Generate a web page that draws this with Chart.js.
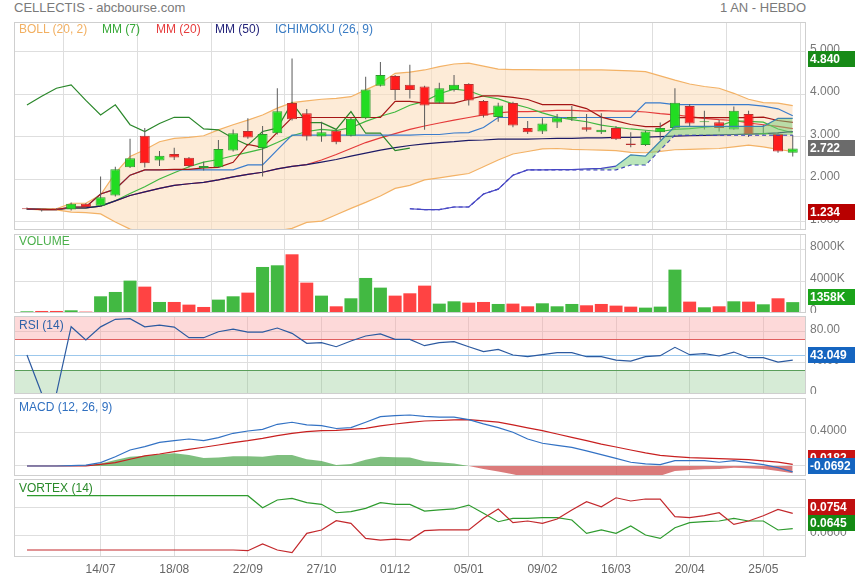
<!DOCTYPE html>
<html lang="fr">
<head>
<meta charset="UTF-8">
<title>CELLECTIS - abcbourse.com</title>
<script src="https://cdn.jsdelivr.net/npm/chart.js"></script>
<style>
  body { margin: 0; background: #fff; font-family: "Liberation Sans", Arial, sans-serif; }
  #page { position: relative; width: 855px; height: 580px; overflow: hidden; }
  .pane { position: absolute; left: 0; width: 855px; }
  .lbl { position: absolute; font-size: 12px; line-height: 14px; white-space: nowrap; z-index: 2; }
</style>
</head>
<body>
<div id="page">
  <div class="lbl" style="left:14px;top:1px;font-size:13px;color:#7a7a7a">CELLECTIS - abcbourse.com</div>
  <div class="lbl" style="right:49px;top:1px;font-size:13px;color:#7a7a7a">1 AN - HEBDO</div>

  <div class="pane" style="top:22px;height:208px"><canvas id="prix"></canvas></div>
  <div class="pane" style="top:234px;height:79px"><canvas id="volume"></canvas></div>
  <div class="pane" style="top:316px;height:78px"><canvas id="rsi"></canvas></div>
  <div class="pane" style="top:398px;height:78px"><canvas id="macd"></canvas></div>
  <div class="pane" style="top:479px;height:101px"><canvas id="vortex"></canvas></div>

  <div class="lbl" style="left:19px;top:22px;color:#f2b062">BOLL (20, 2)</div>
  <div class="lbl" style="left:102px;top:22px;color:#36a836">MM (7)</div>
  <div class="lbl" style="left:156px;top:22px;color:#e63c3c">MM (20)</div>
  <div class="lbl" style="left:215px;top:22px;color:#24247a">MM (50)</div>
  <div class="lbl" style="left:275px;top:22px;color:#3a7cc4">ICHIMOKU (26, 9)</div>
  <div class="lbl" style="left:19px;top:234px;color:#4cb04c">VOLUME</div>
  <div class="lbl" style="left:19px;top:318px;color:#2f62a8">RSI (14)</div>
  <div class="lbl" style="left:19px;top:400px;color:#3070c0">MACD (12, 26, 9)</div>
  <div class="lbl" style="left:19px;top:481px;color:#2a8a2a">VORTEX (14)</div>
</div>

<script>
// semaines (lundi)
const weeks = ['09/06','16/06','23/06','30/06','07/07','14/07','21/07','28/07','04/08','11/08',
  '18/08','25/08','01/09','08/09','15/09','22/09','29/09','06/10','13/10','20/10',
  '27/10','03/11','10/11','17/11','24/11','01/12','08/12','15/12','22/12','29/12',
  '05/01','12/01','19/01','26/01','02/02','09/02','16/02','23/02','02/03','09/03',
  '16/03','23/03','30/03','06/04','13/04','20/04','27/04','04/05','11/05','18/05',
  '25/05','01/06','08/06'];
const xTickIdx = [5, 10, 15, 20, 25, 30, 35, 40, 45, 50];

// bougies
const open = [1.31,1.285,1.29,1.28,1.42,1.37,1.61,2.28,3.02,2.44,2.59,2.50,2.26,2.28,2.67,3.13,2.73,3.08,3.79,3.55,
  3.00,3.14,3.02,3.43,4.20,4.43,4.22,4.18,3.80,4.10,4.24,3.84,3.46,3.79,3.20,3.12,3.33,3.42,3.22,3.10,
  3.20,2.84,2.80,3.10,3.20,3.72,3.34,3.34,3.17,3.53,3.06,3.06,2.62];
const high = [1.33,1.29,1.31,1.45,1.43,2.06,2.29,2.95,3.20,2.66,2.74,2.52,2.41,2.92,3.17,3.43,3.25,4.14,4.84,3.65,
  3.35,3.17,3.45,4.41,4.76,4.45,4.69,4.20,4.27,4.45,4.26,3.86,3.80,3.82,3.37,3.43,3.53,3.72,3.53,3.55,
  3.25,3.10,3.14,3.33,4.14,3.77,3.61,3.39,3.71,3.61,3.28,3.10,3.04];
const low = [1.27,1.234,1.27,1.26,1.33,1.35,1.59,2.26,2.27,2.31,2.45,2.27,2.20,2.26,2.65,2.95,2.06,3.05,3.38,2.91,
  2.88,2.82,3.00,3.41,4.18,3.86,3.90,3.16,3.78,4.06,3.73,3.45,3.35,3.22,3.06,3.06,3.20,3.37,3.12,3.06,
  2.92,2.75,2.78,2.92,3.18,3.25,3.17,3.12,3.16,2.99,3.04,2.62,2.53];
const close = [1.29,1.28,1.28,1.42,1.34,1.57,2.23,2.49,2.37,2.55,2.51,2.31,2.31,2.71,3.08,2.98,3.06,3.60,3.41,3.00,
  3.10,2.87,3.42,4.11,4.45,4.10,4.10,3.73,4.14,4.22,3.85,3.49,3.73,3.26,3.10,3.31,3.45,3.46,3.16,3.16,
  2.94,2.80,3.12,3.20,3.80,3.31,3.35,3.20,3.61,3.06,3.07,2.65,2.722];

// volume (milliers)
const volume = [210,254,254,337,171,2087,2629,4046,3296,1379,1379,1046,754,1671,2087,2546,5754,5962,7337,3796,
  2171,837,1837,4379,3171,2171,2462,3421,1171,1462,1296,1379,1129,1171,837,1212,837,1129,962,1129,
  921,796,671,796,5421,1421,712,837,1462,1421,1087,1837,1358];

// indicateurs du panneau prix
const bollUp = [1.30,1.30,1.30,1.43,1.43,1.63,2.14,2.53,2.69,2.88,2.96,2.98,3.02,3.16,3.28,3.39,3.51,3.67,3.80,3.84,
  3.88,3.90,3.94,4.10,4.26,4.49,4.52,4.57,4.65,4.71,4.73,4.66,4.59,4.58,4.58,4.57,4.57,4.57,4.57,4.57,
  4.56,4.55,4.53,4.43,4.33,4.24,4.18,4.14,4.02,3.88,3.80,3.79,3.73];
const bollLow = [1.29,1.275,1.275,1.22,1.21,1.18,0.99,0.82,0.72,0.68,0.70,0.75,0.78,0.75,0.72,0.74,0.78,0.78,0.84,0.98,
  1.01,1.16,1.31,1.45,1.60,1.78,1.85,1.98,2.03,2.08,2.13,2.29,2.45,2.59,2.65,2.71,2.72,2.70,2.69,2.68,
  2.67,2.63,2.62,2.65,2.69,2.70,2.71,2.72,2.76,2.80,2.76,2.70,2.65];
const mm7 = [1.29,1.285,1.283,1.32,1.32,1.37,1.49,1.66,1.82,2.00,2.15,2.29,2.40,2.46,2.55,2.63,2.71,2.86,3.02,3.12,
  3.17,3.14,3.21,3.36,3.48,3.58,3.74,3.83,4.01,4.12,4.08,3.95,3.89,3.77,3.68,3.56,3.46,3.40,3.35,3.27,
  3.22,3.18,3.15,3.12,3.17,3.19,3.22,3.25,3.37,3.36,3.34,3.18,3.09];
const mm20 = [1.29,1.285,1.283,1.318,1.322,1.363,1.487,1.613,1.70,1.78,1.85,1.89,1.92,1.98,2.05,2.11,2.16,2.24,2.30,2.34,
  2.45,2.58,2.72,2.86,2.97,3.07,3.17,3.25,3.32,3.39,3.45,3.51,3.56,3.59,3.59,3.60,3.62,3.62,3.60,3.61,
  3.60,3.60,3.58,3.54,3.51,3.47,3.43,3.40,3.38,3.32,3.28,3.24,3.19];
const mm50 = [1.29,1.285,1.283,1.318,1.322,1.363,1.487,1.613,1.70,1.78,1.85,1.89,1.92,1.98,2.05,2.11,2.16,2.24,2.30,2.34,
  2.40,2.46,2.54,2.61,2.68,2.74,2.79,2.83,2.86,2.88,2.91,2.92,2.94,2.94,2.94,2.95,2.96,2.96,2.97,2.97,
  2.98,2.98,2.99,3.00,3.01,3.02,3.03,3.04,3.05,3.06,3.07,3.09,3.12];
const tenkan = [1.30,1.282,1.282,1.342,1.342,1.647,1.762,2.092,2.217,2.217,2.23,2.23,2.265,2.275,2.395,2.815,2.745,3.10,3.45,3.45,
  3.45,3.45,3.45,3.45,3.45,3.83,3.83,3.79,3.79,3.79,3.88,3.96,3.96,3.925,3.875,3.755,3.755,3.755,3.66,3.46,
  3.37,3.285,3.235,3.235,3.445,3.445,3.445,3.445,3.445,3.445,3.46,3.38,3.335];
const kijun = [1.30,1.282,1.282,1.342,1.342,1.647,1.762,2.092,2.217,2.217,2.217,2.217,2.217,2.217,2.217,2.332,2.332,2.687,3.037,3.037,
  3.037,3.037,3.037,3.037,3.037,3.037,3.037,3.05,3.05,3.085,3.095,3.215,3.45,3.45,3.45,3.45,3.45,3.45,3.45,3.45,
  3.45,3.45,3.795,3.795,3.755,3.755,3.755,3.755,3.755,3.755,3.72,3.655,3.49];
const chikou = [3.745,3.95,4.14,4.22,3.855,3.51,3.75,3.28,3.12,3.31,3.455,3.455,3.18,3.16,2.96,2.80,3.12,3.20,3.80,3.33,
  3.33,3.17,3.59,3.08,3.08,2.67,2.73];
const senkouStart = 26;
const senkouA = [1.30,1.282,1.282,1.342,1.342,1.647,1.762,2.092,2.217,2.217,2.22,2.22,2.24,2.25,2.306,2.57,2.54,2.89,3.24,3.24,
  3.24,3.24,3.24,3.24,3.24,3.43,3.43];
const senkouB = [1.30,1.282,1.282,1.342,1.342,1.647,1.762,2.092,2.217,2.217,2.217,2.217,2.217,2.217,2.217,2.332,2.332,2.687,3.037,3.037,
  3.037,3.037,3.037,3.037,3.037,3.037,3.037];

// RSI
const rsi = [49.7,0,0,86.2,69,86,95.7,96.5,86,88.3,85.7,72,72,79.7,83.1,79.3,79.3,84.5,77.6,64.7,
  65.6,60.4,67.7,74.2,76.8,69.9,69.9,61.7,65.6,66.9,60.4,54,57,49.7,47.5,50.1,52.7,52.7,47.5,47.5,
  43.2,41.9,47.5,48.8,59.6,50.1,51.4,48.4,53.5,46.2,46.2,40.6,43.049];
const rsiLevels = [30, 50, 70];

// MACD
const macd = [0,0,0,0.005,0.01,0.04,0.11,0.19,0.23,0.28,0.30,0.32,0.30,0.336,0.388,0.415,0.435,0.495,0.519,0.487,
  0.479,0.445,0.455,0.519,0.585,0.597,0.605,0.59,0.58,0.58,0.55,0.50,0.455,0.40,0.32,0.27,0.245,0.22,0.18,0.135,
  0.09,0.044,0.025,0.016,0.063,0.063,0.063,0.044,0.063,0.04,0.016,-0.02,-0.0692];
const signal = [0,0,0,0,0.002,0.02,0.04,0.08,0.119,0.142,0.17,0.198,0.222,0.249,0.277,0.30,0.328,0.36,0.388,0.407,
  0.419,0.423,0.435,0.447,0.475,0.498,0.518,0.534,0.54,0.548,0.55,0.535,0.52,0.487,0.453,0.42,0.38,0.34,0.30,0.26,
  0.225,0.19,0.155,0.126,0.112,0.10,0.093,0.087,0.081,0.075,0.06,0.045,0.0182];
const histo = [0,0,0,0.005,0.008,0.03,0.07,0.11,0.12,0.14,0.15,0.13,0.095,0.10,0.115,0.115,0.11,0.13,0.13,0.08,
  0.06,0.012,0.024,0.075,0.11,0.105,0.10,0.055,0.045,0.03,0,-0.036,-0.067,-0.099,-0.14,-0.15,-0.14,-0.13,-0.125,-0.13,
  -0.135,-0.145,-0.13,-0.115,-0.06,-0.048,-0.04,-0.036,-0.02,-0.028,-0.036,-0.06,-0.087];

// VORTEX
const viPlus = [0.0881,0.0881,0.0881,0.0881,0.0881,0.0881,0.0881,0.0881,0.0881,0.0881,0.0881,0.0881,0.0881,0.0881,0.0881,0.0881,
  0.0795,0.085,0.0862,0.0831,0.0819,0.0759,0.0767,0.079,0.0831,0.0819,0.0819,
  0.0771,0.0779,0.0786,0.0814,0.0755,0.0695,0.0719,0.0719,0.0724,0.0724,0.0707,0.0612,0.0636,0.0612,0.0664,0.060,0.0576,
  0.0652,0.0688,0.0695,0.070,0.0719,0.070,0.070,0.0636,0.0645];
const viMinus = [0.0493,0.0493,0.0493,0.0493,0.0493,0.0493,0.0493,0.0493,0.0493,0.0493,0.0493,0.0493,0.0493,0.0493,0.0493,
  0.0488,0.0536,0.0493,0.0474,0.0612,0.0636,0.0702,0.0683,0.0576,0.0564,0.0571,0.0564,
  0.0631,0.0636,0.0636,0.0636,0.0719,0.0786,0.0688,0.070,0.0683,0.0714,0.0779,0.0838,0.0802,0.0866,0.0843,0.0857,0.0857,
  0.0731,0.0724,0.0738,0.0759,0.0676,0.070,0.0738,0.0783,0.0754];

// graduations
const priceTicks = [1, 2, 3, 4, 5];
const volumeTicks = [0, 4000, 8000];
const rsiTicks = [0, 40, 80];
const macdTicks = [0, 0.4];
const vortexTicks = [0.06, 0.08];

Chart.defaults.font.family = '"Liberation Sans", Arial, sans-serif';
Chart.defaults.font.size = 12;
Chart.defaults.color = '#777';

const X_MIN = -0.88, X_MAX = 52.9;
const GRID = '#dedede';
const idx = weeks.map((w, i) => i);
const pts = (arr, start = 0) => arr.map((v, i) => ({ x: i + start, y: v }));

function line(data, color, extra) {
  return Object.assign({ type: 'line', data, borderColor: color, borderWidth: 1.2,
    pointRadius: 0, tension: 0, fill: false }, extra);
}

const frame = {
  id: 'frame',
  afterDraw(chart) {
    const { ctx, chartArea: a } = chart;
    ctx.save();
    ctx.strokeStyle = '#cfcfcf';
    ctx.lineWidth = 1;
    ctx.strokeRect(Math.round(a.left) + 0.5, Math.round(a.top) + 0.5, Math.round(a.width) - 1, Math.round(a.height) - 1);
    ctx.restore();
  }
};

function valueBoxes(items, dy) {
  return {
    id: 'valueBoxes',
    afterDraw(chart) {
      const { ctx } = chart;
      const y = chart.scales.y;
      ctx.save();
      ctx.font = 'bold 12px "Liberation Sans", Arial, sans-serif';
      ctx.textBaseline = 'middle';
      items.forEach(b => {
        const py = Math.round(y.getPixelForValue(b.value) + dy);
        ctx.fillStyle = b.color;
        ctx.fillRect(808, py - 8, 47, 16);
        ctx.fillStyle = '#fff';
        ctx.fillText(b.text, 810, py + 1);
      });
      ctx.restore();
    }
  };
}

const rsiBands = {
  id: 'rsiBands',
  beforeDatasetsDraw(chart) {
    const { ctx, chartArea: a, scales: { y } } = chart;
    const y30 = y.getPixelForValue(rsiLevels[0]);
    const y50 = y.getPixelForValue(rsiLevels[1]);
    const y70 = y.getPixelForValue(rsiLevels[2]);
    ctx.save();
    ctx.fillStyle = 'rgba(250,160,160,0.4)';
    ctx.fillRect(a.left, a.top, a.width, y70 - a.top);
    ctx.fillStyle = 'rgba(120,190,120,0.3)';
    ctx.fillRect(a.left, y30, a.width, a.bottom - y30);
    [[y70, '#e06060'], [y50, '#9cc8ec'], [y30, '#5a9e5a']].forEach(([py, c]) => {
      ctx.strokeStyle = c;
      ctx.lineWidth = 1;
      ctx.beginPath();
      ctx.moveTo(a.left, Math.round(py) + 0.5);
      ctx.lineTo(a.right, Math.round(py) + 0.5);
      ctx.stroke();
    });
    ctx.restore();
  }
};

function makeChart(id, o) {
  return new Chart(document.getElementById(id), {
    type: 'line',
    data: { datasets: o.datasets },
    plugins: [frame, valueBoxes(o.boxes || [], o.boxDy || 0)].concat(o.plugins || []),
    options: {
      responsive: true,
      maintainAspectRatio: false,
      animation: false,
      events: [],
      layout: { padding: { left: 14, right: 0, top: 0, bottom: 0 } },
      plugins: { legend: { display: false }, tooltip: { enabled: false } },
      scales: {
        x: {
          type: 'linear', min: X_MIN, max: X_MAX, offset: false,
          grid: { color: GRID, drawTicks: false },
          border: { display: false },
          afterBuildTicks: s => { s.ticks = xTickIdx.map(v => ({ value: v })); },
          ticks: { display: !!o.showX, padding: 5, color: '#666', maxRotation: 0, autoSkip: false,
            callback: v => weeks[v] },
          afterFit: s => { s.height = o.showX ? 23 : 0; s.paddingLeft = 0; s.paddingRight = 0; }
        },
        y: {
          position: 'right', min: o.yMin, max: o.yMax,
          grid: { color: GRID, drawTicks: false },
          border: { display: false },
          afterBuildTicks: s => { s.ticks = o.yTicks.map(v => ({ value: v })); },
          ticks: { padding: 4, color: '#777', labelOffset: -2, callback: o.fmt },
          afterFit: s => { s.width = 49; s.paddingTop = 0; s.paddingBottom = 0; }
        }
      }
    }
  });
}

// couleurs des bougies et du volume
const GREEN = '#22dc22', GREEN_B = '#2f9a2f', RED = '#ff1c1c', RED_B = '#b83030';
const bodyFill = close.map((c, i) => c >= open[i] ? GREEN : RED);
const bodyLine = close.map((c, i) => c >= open[i] ? GREEN_B : RED_B);
const volFill = close.map((c, i) => (i === 0 || c > close[i - 1]) ? '#42b942' : '#ff4343');

const hi = Math.max(...high), lo = Math.min(...low), last = close[close.length - 1];

// ordre : plus grand = dessiné en premier (dessous)
makeChart('prix', {
  yMin: 0.80, yMax: 5.70, yTicks: priceTicks, fmt: v => v.toFixed(3),
  boxes: [
    { value: hi, text: hi.toFixed(3), color: '#178a17' },
    { value: last, text: last.toFixed(3), color: '#6b6b6b' },
    { value: lo, text: lo.toFixed(3), color: '#b80000' }
  ],
  datasets: [
    line(pts(bollUp), '#f3b266', { fill: '+1', backgroundColor: 'rgba(251,222,188,0.6)', order: 20 }),
    line(pts(bollLow), '#f3b266', { order: 19 }),
    { type: 'bar', data: idx.map(i => ({ x: i, y: [low[i], high[i]] })), backgroundColor: '#5a5a5a',
      grouped: false, maxBarThickness: 1, order: 7 },
    { type: 'bar', data: idx.map(i => ({ x: i, y: [open[i], close[i]] })), backgroundColor: bodyFill,
      borderColor: bodyLine, borderWidth: 1, borderSkipped: false, grouped: false,
      maxBarThickness: 10, minBarLength: 1, order: 6 },
    line(pts(senkouA, senkouStart), '#4747c4', {
      fill: { target: '+1', above: 'rgba(120,205,120,0.5)', below: 'rgba(0,0,0,0)' },
      segment: { borderColor: c => c.p0DataIndex >= 14 ? '#3c84ae' : '#4747c4' }, order: 4 }),
    line(pts(senkouB, senkouStart), '#3a3ac0', { borderDash: [4, 3], order: 5 }),
    line(pts(mm20), '#e53a3a', { order: 15 }),
    line(pts(mm7), '#3fb83f', { order: 14 }),
    line(pts(mm50), '#1d1a66', { order: 13 }),
    line(pts(chikou), '#2a872a', { order: 12 }),
    line(pts(kijun), '#3a7ccc', { order: 11 }),
    line(pts(tenkan), '#a51515', { order: 10 })
  ]
});

makeChart('volume', {
  yMin: 0, yMax: 9875, yTicks: volumeTicks, fmt: v => v === 0 ? '0' : v + 'K',
  boxes: [{ value: volume[volume.length - 1], text: volume[volume.length - 1] + 'K', color: '#1aa31a' }],
  boxDy: -5,
  datasets: [
    { type: 'bar', data: pts(volume), backgroundColor: volFill, grouped: false,
      categoryPercentage: 1, barPercentage: 0.95, maxBarThickness: 13 }
  ]
});

makeChart('rsi', {
  yMin: -0.6, yMax: 100, yTicks: rsiTicks, fmt: v => v === 0 ? '0' : v.toFixed(2),
  boxes: [{ value: rsi[rsi.length - 1], text: rsi[rsi.length - 1].toFixed(3), color: '#1565c0' }],
  boxDy: -5,
  plugins: [rsiBands],
  datasets: [ line(pts(rsi), '#2c5aa0') ]
});

makeChart('macd', {
  yMin: -0.119, yMax: 0.807, yTicks: macdTicks, fmt: v => v.toFixed(4),
  boxes: [
    { value: signal[signal.length - 1], text: signal[signal.length - 1].toFixed(4), color: '#c81414' },
    { value: macd[macd.length - 1], text: macd[macd.length - 1].toFixed(4), color: '#1565c0' }
  ],
  boxDy: -6,
  datasets: [
    line(pts(histo), 'rgba(0,0,0,0)', { borderWidth: 0,
      fill: { target: 'origin', above: 'rgba(95,175,95,0.8)', below: 'rgba(210,90,90,0.8)' }, order: 10 }),
    line(pts(signal), '#c82020', { order: 2 }),
    line(pts(macd), '#3372c4', { order: 1 })
  ]
});

makeChart('vortex', {
  yMin: 0.0443, yMax: 0.10, yTicks: vortexTicks, fmt: v => v.toFixed(4), showX: true,
  boxes: [
    { value: viMinus[viMinus.length - 1], text: viMinus[viMinus.length - 1].toFixed(4), color: '#c01010' },
    { value: viPlus[viPlus.length - 1], text: viPlus[viPlus.length - 1].toFixed(4), color: '#148a14' }
  ],
  boxDy: -6,
  datasets: [
    line(pts(viMinus), '#c3282c'),
    line(pts(viPlus), '#2e9b2e')
  ]
});
</script>
</body>
</html>
